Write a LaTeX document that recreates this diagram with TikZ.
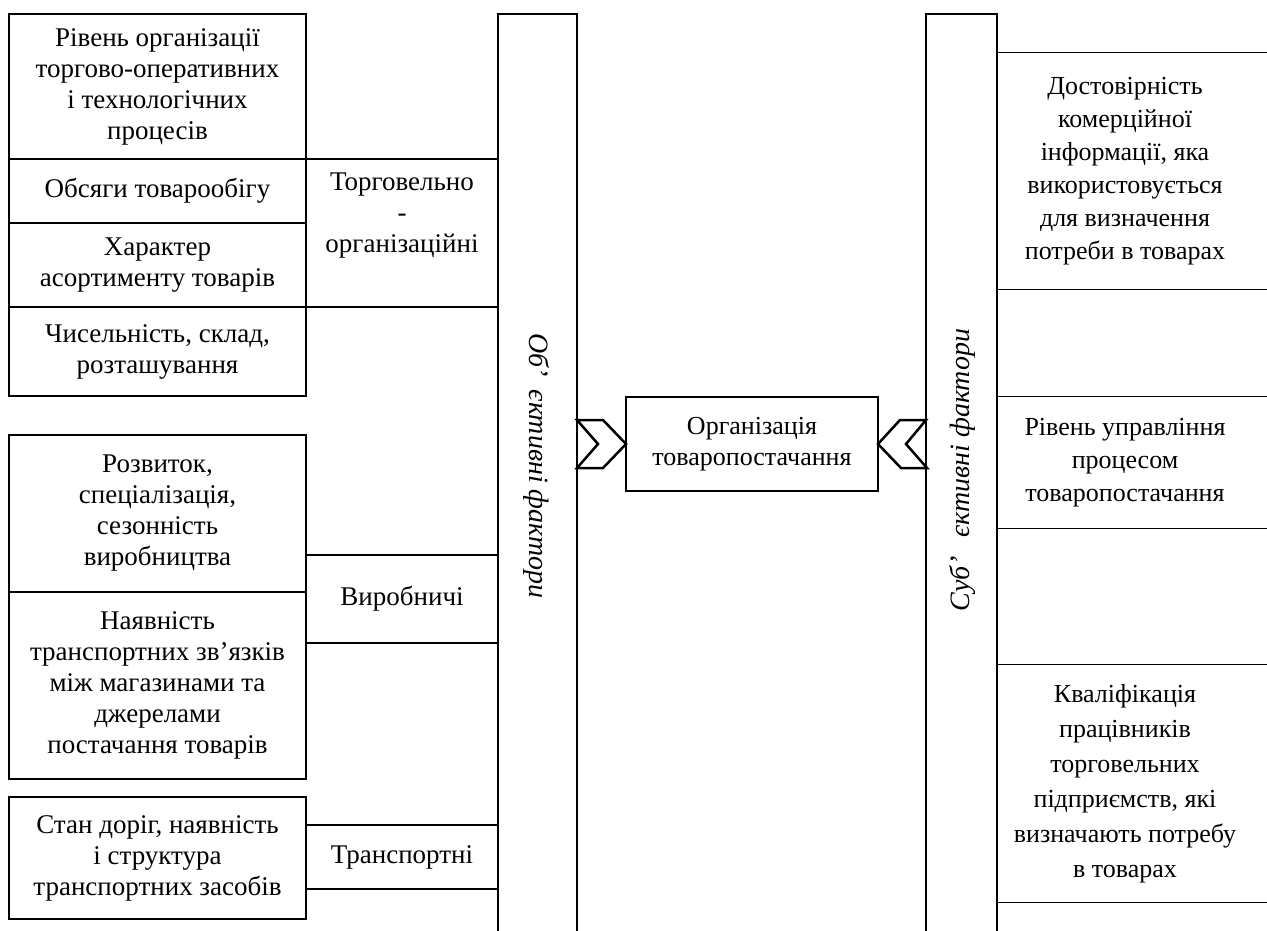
\documentclass[tikz,border=0pt]{standalone}
\usepackage{fontspec}
\setmainfont{Liberation Serif}
\usetikzlibrary{positioning}

\begin{document}
\begin{tikzpicture}[x=1pt, y=-1pt,
    box/.style={rectangle, draw, line width=1.3pt, inner sep=0pt, outer sep=0pt, align=center, font=\fontsize{27}{31}\selectfont},
    col/.style={rectangle, draw, line width=1.3pt, inner sep=0pt, outer sep=0pt, minimum height=940},
    vtext/.style={font=\itshape\fontsize{28}{31}\selectfont},
    rtext/.style={inner sep=0pt, align=center, minimum width=256, font=\fontsize{26}{33}\selectfont},
    frame/.style={line width=1.3pt},
    chev/.style={line width=2.5pt, line join=miter, fill=white},
    node distance=0pt
]
  \useasboundingbox (0,0) rectangle (1267,930);
  \node[box, minimum width=297, minimum height=145, anchor=north west] (rivorg) at (9,14) {Рівень організації\\торгово-оперативних\\і технологічних\\процесів};
  \node[box, minimum width=297, minimum height=64, below=of rivorg] (obsyagy) {Обсяги товарообігу};
  \node[box, minimum width=297, minimum height=84, below=of obsyagy] (kharakter) {Характер\\асортименту товарів};
  \node[box, minimum width=297, minimum height=89, below=of kharakter] (chysel) {Чисельність, склад,\\розташування};
  \node[box, minimum width=192, minimum height=148, anchor=north west] (torgorg) at (obsyagy.north east) {Торговельно\\-\\організаційні\\\strut};

  \node[box, minimum width=297, minimum height=157, anchor=north west] (rozvytok) at (9,435) {Розвиток,\\спеціалізація,\\сезонність\\виробництва};
  \node[box, minimum width=297, minimum height=187, below=of rozvytok] (nayavn) {Наявність\\транспортних зв’язків\\між магазинами та\\джерелами\\постачання товарів};
  \node[box, minimum width=192, minimum height=88, anchor=north west] (vyrob) at (306,555) {Виробничі};

  \node[box, minimum width=297, minimum height=122, anchor=north west] (stan) at (9,797) {Стан доріг, наявність\\і структура\\транспортних засобів};
  \node[box, minimum width=192, minimum height=64, anchor=north west] (transp) at (306,825) {Транспортні};

  \node[col, minimum width=79, anchor=north west] (obcol) at (498,14) {};
  \node[vtext, rotate=-90] (obtxt) at (537,466) {Об’\hspace{6pt} єктивні фактори};

  \node[box, minimum width=252, minimum height=94, font=\fontsize{26}{31}\selectfont] (orgtov) at (752,444) {Організація\\товаропостачання};

  \node[col, minimum width=71, anchor=north west] (subcol) at (926,14) {};
  \node[vtext, rotate=90] (subtxt) at (962,470) {Суб’\hspace{12pt} єктивні фактори};

  \node[rtext, minimum height=236] (dostov) at (1125,171) {Достовірність\\комерційної\\інформації, яка\\використовується\\для визначення\\потреби в товарах};
  \node[rtext, minimum height=131] (rivupr) at (1125,462.5) {Рівень управління\\процесом\\товаропостачання};
  \node[rtext, minimum height=237, font=\fontsize{26}{35}\selectfont] (kvalif) at (1125,783.5) {Кваліфікація\\працівників\\торговельних\\підприємств, які\\визначають потребу\\в товарах};
  \foreach \n in {dostov, rivupr, kvalif} {
    \draw[frame] (subcol.east |- \n.north) -- ++(290,0);
    \draw[frame] (subcol.east |- \n.south) -- ++(290,0);
  }

  \draw[chev] (obcol.east |- orgtov.west) ++(0,-24) -- ++(26,0) -- (orgtov.west) -- ++(-23,24) -- ++(-26,0) -- ++(21,-24) -- cycle;
  \draw[chev] (subcol.west |- orgtov.east) ++(0,-24) -- ++(-26,0) -- (orgtov.east) -- ++(23,24) -- ++(26,0) -- ++(-21,-24) -- cycle;
\end{tikzpicture}
\end{document}
